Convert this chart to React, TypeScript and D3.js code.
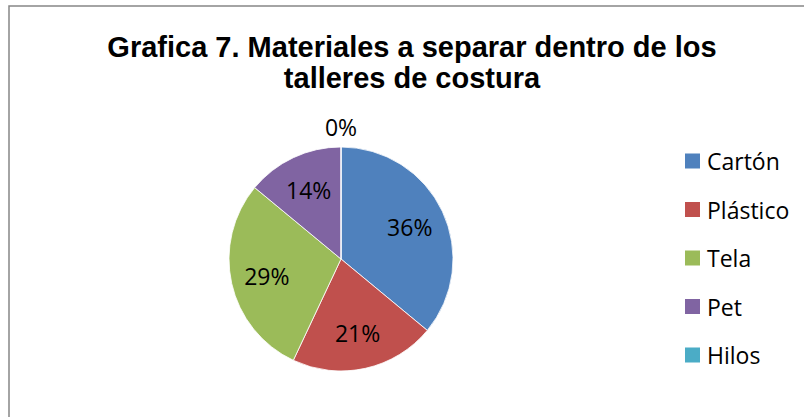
import React, { useRef, useEffect } from "react";
import * as d3 from "d3";

const categories = ["Cartón", "Plástico", "Tela", "Pet", "Hilos"];
const values = [36, 21, 29, 14, 0];
const colors = ["#4F81BD", "#C0504D", "#9BBB59", "#8064A2", "#4BACC6"];
const titleLines = ["Grafica 7. Materiales a separar dentro de los", "talleres de costura"];

const W = 804;
const H = 417;

const App = () => {
  const svgRef = useRef<SVGSVGElement>(null);

  useEffect(() => {
    const svg = d3.select(svgRef.current);
    svg.selectAll("*").remove();

    // chart frame (cropped on right and bottom)
    svg.append("rect")
      .attr("x", 9)
      .attr("y", 6)
      .attr("width", W + 20)
      .attr("height", H + 20)
      .attr("fill", "#fff")
      .attr("stroke", "#868686")
      .attr("stroke-width", 1.5);

    svg.append("g")
      .selectAll("text")
      .data(titleLines)
      .enter()
      .append("text")
      .attr("x", 412)
      .attr("y", (d, i) => 57 + i * 31)
      .attr("text-anchor", "middle")
      .attr("font-family", "Liberation Sans, Arial, sans-serif")
      .attr("font-weight", "bold")
      .attr("font-size", 29)
      .attr("fill", "#000")
      .text(d => d);

    const cx = 341, cy = 259, r = 112;
    const pie = d3.pie<number>().sort(null).value(d => d);
    const arcs = pie(values);
    const arc = d3.arc<d3.PieArcDatum<number>>().innerRadius(0).outerRadius(r);
    const labelArc = d3.arc<d3.PieArcDatum<number>>().innerRadius(76).outerRadius(76);
    const outArc = d3.arc<d3.PieArcDatum<number>>().innerRadius(r + 20).outerRadius(r + 20);

    const g = svg.append("g").attr("transform", `translate(${cx},${cy})`);
    g.selectAll("path")
      .data(arcs)
      .enter()
      .append("path")
      .attr("d", arc)
      .attr("fill", (d, i) => colors[i])
      .attr("stroke", "#fff")
      .attr("stroke-width", 0.8);

    g.selectAll("text")
      .data(arcs)
      .enter()
      .append("text")
      .attr("transform", d => {
        const p = d.value === 0 ? outArc.centroid(d) : labelArc.centroid(d);
        return `translate(${p[0]},${p[1]})`;
      })
      .attr("text-anchor", "middle")
      .attr("dominant-baseline", "central")
      .attr("font-family", "Open Sans, sans-serif")
      .attr("font-size", 23)
      .attr("fill", "#000")
      .text(d => `${d.value}%`);

    const legend = svg.append("g")
      .selectAll("g")
      .data(categories)
      .enter()
      .append("g")
      .attr("transform", (d, i) => `translate(685,${161 + i * 48.5})`);
    legend.append("rect")
      .attr("x", 0)
      .attr("y", -7.5)
      .attr("width", 15)
      .attr("height", 15)
      .attr("fill", (d, i) => colors[i]);
    legend.append("text")
      .attr("x", 22)
      .attr("y", 0)
      .attr("dominant-baseline", "central")
      .attr("font-family", "Open Sans, sans-serif")
      .attr("font-size", 23)
      .attr("fill", "#000")
      .text(d => d);
  }, []);

  return (
    <svg ref={svgRef} width={W} height={H} style={{ position: "fixed", left: 0, top: 0, background: "#fff" }}></svg>
  );
};

export default App;
